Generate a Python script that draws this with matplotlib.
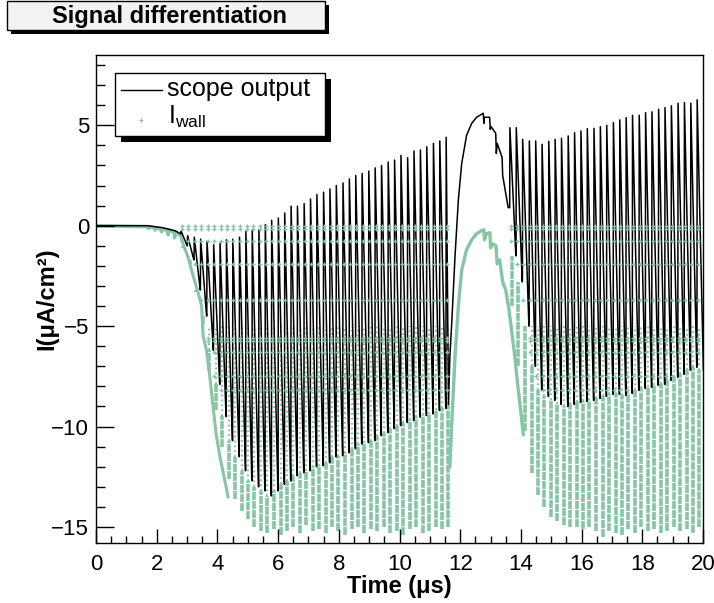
import matplotlib
matplotlib.use("Agg")
import matplotlib.pyplot as plt
from matplotlib.patches import Rectangle
from matplotlib.lines import Line2D

plt.rcParams["font.family"] = ["Liberation Sans", "DejaVu Sans"]
plt.rcParams["mathtext.fontset"] = "custom"
plt.rcParams["mathtext.rm"] = "Liberation Sans"

GREEN = "#86c5a5"

# flat start of both traces (us, uA/cm2)
scope_base_t = [0.0, 1.7, 2.2, 2.6, 2.79]
scope_base_v = [0.0, 0.0, -0.1, -0.25, -0.4]
iwall_base_t = [0.0, 1.70, 1.73, 1.74, 1.94, 1.95, 1.96, 2.15, 2.16, 2.17,
                2.37, 2.38, 2.39, 2.58, 2.59, 2.60, 2.79]
iwall_base_v = [0.0, -0.05, -0.15, -0.06, -0.12, -0.22, -0.1, -0.18, -0.3, -0.15,
                -0.25, -0.45, -0.2, -0.35, -0.6, -0.3, -0.5]

# first pulse train
pulse1_t = [2.80, 3.01, 3.23, 3.44, 3.65, 3.87, 4.08, 4.29, 4.50, 4.72, 4.93, 5.14,
            5.36, 5.57, 5.78, 6.00, 6.21, 6.42, 6.63, 6.85, 7.06, 7.27, 7.49, 7.70,
            7.91, 8.13, 8.34, 8.55, 8.76, 8.98, 9.19, 9.40, 9.62, 9.83, 10.04, 10.26,
            10.47, 10.68, 10.89, 11.11, 11.32, 11.53]
pulse1_peak = [-0.28, -0.5, -0.57, -0.67, -0.78, -0.95, -0.87, -0.7, -0.67, -0.57,
               -0.28, -0.25, -0.2, 0.05, 0.27, 0.38, 0.63, 0.97, 0.97, 1.1, 1.33,
               1.55, 1.67, 1.83, 2.0, 2.13, 2.33, 2.5, 2.6, 2.72, 2.88, 3.0, 3.17,
               3.27, 3.5, 3.38, 3.72, 3.77, 3.93, 4.1, 4.22, 4.4]
pulse1_trough = [-1.0, -1.7, -3.2, -4.5, -6.2, -7.9, -9.5, -10.7, -11.5, -12.2,
                 -12.7, -13.0, -13.2, -13.45, -13.2, -12.87, -12.7, -12.45, -12.3,
                 -12.2, -12.0, -11.95, -11.8, -11.5, -11.45, -11.3, -11.1, -10.87,
                 -10.8, -10.7, -10.45, -10.3, -10.1, -9.95, -9.8, -9.7, -9.53, -9.45,
                 -9.37, -9.2, -9.1, -8.9]
iwall1_bottom = [-1.1, -1.9, -3.3, -4.9, -7.2, -9.2, -11.0, -12.6, -13.6, -14.2,
                 -14.6, -15.0, -15.2, -15.3, -15.1, -15.4, -15.2, -15.0, -15.3,
                 -14.9, -15.2, -15.1, -15.3, -15.0, -15.2, -15.4, -15.1, -15.0,
                 -15.3, -15.1, -15.2, -15.0, -15.3, -15.2, -15.4, -15.1, -15.0,
                 -15.3, -15.2, -15.0, -15.1, -15.0]

# falling edge of I_wall at the start of the train
iwall_edge_t = [2.79, 2.88, 3.04, 3.2, 3.37, 3.48, 3.53, 3.64, 3.75, 3.85, 3.96,
                4.07, 4.18, 4.35]
iwall_edge_v = [-0.5, -0.95, -1.6, -2.5, -3.37, -4.0, -5.5, -6.2, -7.5, -8.9, -10.4,
                -11.4, -12.2, -13.5]

# pause between the trains
scope_gap_t = [11.66, 11.72, 11.83, 11.94, 12.05, 12.21, 12.38, 12.54, 12.76, 12.78,
               12.80, 12.97, 12.99, 13.01, 13.17, 13.19, 13.22, 13.38, 13.40, 13.58]
scope_gap_v = [-6.5, -4.9, -1.5, 1.3, 3.1, 4.5, 5.1, 5.4, 5.6, 5.1,
               5.4, 5.4, 4.8, 4.95, 4.6, 3.6, 4.1, 3.4, 2.5, 0.9]
iwall_gap_t = [11.66, 11.72, 11.83, 11.94, 12.05, 12.21, 12.38, 12.54, 12.70,
               12.78, 12.80, 12.86, 12.98, 13.0, 13.06, 13.18, 13.22, 13.3, 13.4,
               13.5, 13.6, 13.7, 13.8, 13.9, 14.0, 14.08]
iwall_gap_v = [-12.0, -9.9, -6.5, -4.0, -2.2, -1.2, -0.7, -0.4, -0.25,
               -0.2, -0.7, -0.4, -0.35, -1.1, -0.9, -1.0, -1.9, -1.7, -2.8,
               -3.2, -4.1, -5.3, -6.5, -8.0, -9.3, -10.4]

# second pulse train
pulse2_t = [13.63, 13.84, 14.05, 14.27, 14.48, 14.69, 14.91, 15.12, 15.33, 15.55,
            15.76, 15.97, 16.18, 16.40, 16.61, 16.82, 17.04, 17.25, 17.46, 17.67,
            17.89, 18.10, 18.31, 18.53, 18.74, 18.95, 19.17, 19.38, 19.59, 19.80]
pulse2_peak = [4.88, 4.88, 4.3, 4.22, 4.22, 4.05, 4.2, 4.3, 4.35, 4.47, 4.63, 4.72,
               4.83, 4.85, 4.93, 5.0, 5.13, 5.27, 5.38, 5.5, 5.5, 5.63, 5.67, 5.8,
               5.88, 5.97, 6.1, 6.13, 6.1, 6.27]
pulse2_trough = [-1.5, -2.8, -5.0, -7.0, -8.2, -8.5, -8.7, -8.9, -9.0, -8.9, -8.8,
                 -8.75, -8.7, -8.6, -8.5, -8.4, -8.4, -8.45, -8.35, -8.2, -8.1,
                 -8.05, -7.95, -7.9, -7.7, -7.55, -7.4, -7.2, -7.05, -7.2]
iwall2_bottom = [-4.0, -7.0, -10.2, -12.3, -13.4, -14.0, -14.5, -14.7, -14.9, -15.0,
                 -15.0, -15.1, -15.0, -15.2, -15.5, -15.2, -15.3, -15.4, -15.1,
                 -15.3, -15.0, -15.2, -15.1, -15.3, -15.2, -15.0, -15.2, -15.1,
                 -15.3, -15.0]

# levels where the sampled I_wall points line up
iwall_rows = [0.0, -0.15, -0.75, -1.9, -3.7, -5.6, -5.75, -6.3, -7.5, -8.2]
iwall_sparse_top = -5.0


def sawtooth(times, peaks, troughs, start, end_t):
    xs, ys = [], []
    prev = start
    for i in range(len(times)):
        t = times[i]
        t_next = times[i + 1] if i + 1 < len(times) else end_t
        xs += [t, t + 0.008, t_next - 0.006]
        ys += [prev, peaks[i], troughs[i]]
        prev = troughs[i]
    return xs, ys


fig = plt.figure(figsize=(7.14, 6.03), dpi=100)
W, H = 714, 603
ax = fig.add_axes([96 / W, 1 - 543 / H, 607 / W, 488 / H])

# I_wall: dense sampled columns
for times, troughs, bottoms in [(pulse1_t, pulse1_trough, iwall1_bottom),
                                (pulse2_t, pulse2_trough, iwall2_bottom)]:
    xs = [t + 0.08 for t in times]
    ax.vlines(xs, bottoms, troughs, color=GREEN, lw=2.6, linestyles=[(0, (2.2, 0.3))],
              zorder=1)
    mid_x = [x for x, tr in zip(xs, troughs) if tr < iwall_sparse_top]
    mid_tr = [tr for tr in troughs if tr < iwall_sparse_top]
    ax.vlines(mid_x, mid_tr, iwall_sparse_top, color=GREEN, lw=1.6,
              linestyles=[(0, (0.8, 1.4))], zorder=1)

ax.plot(iwall_base_t, iwall_base_v, color=GREEN, lw=2.5, zorder=1)
ax.plot(iwall_edge_t, iwall_edge_v, color=GREEN, lw=2.2, zorder=1)
ax.plot(iwall_gap_t, iwall_gap_v, color=GREEN, lw=2.4, zorder=1)

# scope output
x1, y1 = sawtooth(pulse1_t, pulse1_peak, pulse1_trough, scope_base_v[-1], scope_gap_t[0] - 0.04)
x2, y2 = sawtooth(pulse2_t, pulse2_peak, pulse2_trough, scope_gap_v[-1], 20.02)
scope_t = scope_base_t + x1 + scope_gap_t + x2
scope_v = scope_base_v + y1 + scope_gap_v + y2
ax.plot(scope_t, scope_v, color="black", lw=1.1, zorder=2)

# sparse I_wall rows on top
for times, troughs in [(pulse1_t, pulse1_trough), (pulse2_t, pulse2_trough)]:
    px, py = [], []
    for t, tr in zip(times, troughs):
        for lv in iwall_rows:
            if lv > tr:
                px.append(t + 0.03)
                py.append(lv)
    ax.plot(px, py, "+", color=GREEN, ms=3.5, mew=1.0, zorder=3)

ax.set_xlim(0, 20)
ax.set_ylim(-15.8, 8.5)
ax.set_xticks(range(0, 21, 2))
ax.set_xticks([i * 0.5 for i in range(41)], minor=True)
ax.set_yticks([-15, -10, -5, 0, 5])
ax.set_yticks(range(-15, 9), minor=True)
ax.tick_params(which="both", direction="in", top=False, right=False, labelsize=16)
ax.tick_params(axis="x", which="major", length=10, width=1, pad=8)
ax.tick_params(axis="x", which="minor", length=5, width=1)
ax.tick_params(axis="y", which="major", length=13, width=1, pad=5)
ax.tick_params(axis="y", which="minor", length=6.5, width=1)
for s in ax.spines.values():
    s.set_linewidth(1)

ax.set_xlabel("Time (\u03bcs)", fontsize=17, fontweight="bold", labelpad=0)
ax.set_ylabel("I(\u03bcA/cm\u00b2)", fontsize=17, fontweight="bold")
ax.yaxis.set_label_coords(-38 / 607, 0.5)


def box(x0, y0, x1_, y1_, face, shadow):
    fig.patches.append(Rectangle((x0 / W + shadow / W, 1 - (y1_ + shadow) / H),
                                 (x1_ - x0) / W, (y1_ - y0) / H, transform=fig.transFigure,
                                 facecolor="black", edgecolor="none", zorder=5))
    fig.patches.append(Rectangle((x0 / W, 1 - y1_ / H), (x1_ - x0) / W, (y1_ - y0) / H,
                                 transform=fig.transFigure, facecolor=face,
                                 edgecolor="black", lw=1, zorder=6))


# title box
box(7, 1, 325, 30, "#f2f2f2", 4)
fig.text(170 / W, 1 - 16 / H, "Signal differentiation", fontsize=17, fontweight="bold",
         ha="center", va="center", zorder=7)

# legend
box(115, 73, 325, 136, "white", 6)
fig.lines.append(Line2D([121 / W, 162 / W], [1 - 90 / H, 1 - 90 / H], transform=fig.transFigure,
                        color="black", lw=1, zorder=7))
fig.lines.append(Line2D([141 / W], [1 - 120 / H], transform=fig.transFigure, marker="+",
                        color=GREEN, ms=3, mew=0.8, zorder=7))
fig.text(167 / W, 1 - 89 / H, "scope output", fontsize=18, va="center", zorder=7)
fig.text(168 / W, 1 - 117 / H, r"I$_{\mathregular{wall}}$", fontsize=18, va="center", zorder=7)

fig.savefig("out.png", dpi=100)
